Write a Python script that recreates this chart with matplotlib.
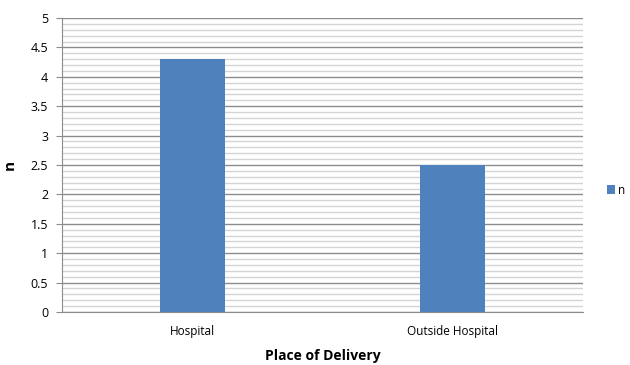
import matplotlib
matplotlib.use("Agg")
import matplotlib.pyplot as plt
from matplotlib.ticker import MultipleLocator

places = ["Hospital", "Outside Hospital"]
n_values = [4.3, 2.5]

plt.rcParams["font.family"] = ["Open Sans", "DejaVu Sans"]

fig = plt.figure(figsize=(6.3, 3.65), dpi=100)
ax = fig.add_axes([62 / 630, 1 - 312 / 365, 521 / 630, 294 / 365])

x = list(range(len(places)))
ax.bar(x, n_values, width=0.25, color="#4f81bd", label="n", zorder=3)

ax.set_xlim(-0.5, len(places) - 0.5)
ax.set_ylim(0, 5)
ax.yaxis.set_minor_locator(MultipleLocator(0.1))
ax.set_yticks([0, 0.5, 1, 1.5, 2, 2.5, 3, 3.5, 4, 4.5, 5],
              ["0", "0.5", "1", "1.5", "2", "2.5", "3", "3.5", "4", "4.5", "5"])
ax.set_xticks(x, places)

ax.grid(axis="y", which="major", color="#8c8c8c", linewidth=1.0, zorder=0)
ax.grid(axis="y", which="minor", color="#d4d4d4", linewidth=1.0, zorder=0)

for side in ("top", "right"):
    ax.spines[side].set_visible(False)
ax.spines["bottom"].set_color("#8c8c8c")
ax.spines["left"].set_color("#8c8c8c")

ax.tick_params(axis="y", which="major", length=4, color="#8c8c8c", labelsize=9, pad=6)
ax.tick_params(axis="y", which="minor", length=0)
ax.tick_params(axis="x", length=0, labelsize=8.5, pad=9)

ax.set_xlabel("Place of Delivery", fontsize=10, fontweight="bold", labelpad=8)
ax.set_ylabel("n", fontsize=11, fontweight="bold", labelpad=10)

ax.legend(loc="center left", bbox_to_anchor=(596 / 630, 1 - 190 / 365),
          bbox_transform=fig.transFigure, frameon=False, fontsize=8.5,
          handlelength=0.7, handleheight=0.7, handletextpad=0.3)

fig.savefig("out.png", dpi=100)
